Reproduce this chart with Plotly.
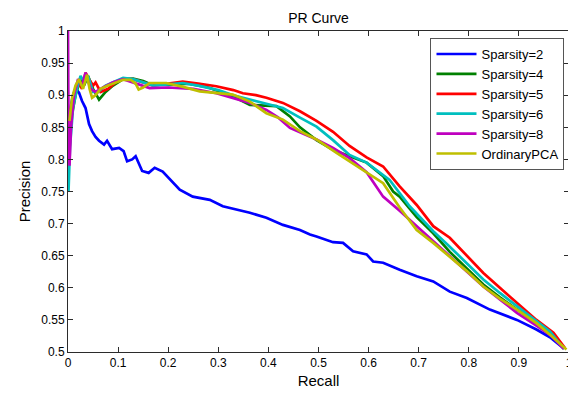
import plotly.graph_objects as go

# ---- data ----
names = ["Sparsity=2", "Sparsity=4", "Sparsity=5", "Sparsity=6", "Sparsity=8", "OrdinaryPCA"]
colors = ["#0000FF", "#008000", "#FF0000", "#00BFBF", "#BF00BF", "#BFBF00"]

s2_x = [0.002, 0.005, 0.010, 0.015, 0.022, 0.028, 0.035, 0.042, 0.048, 0.055, 0.062, 0.072, 0.078,
        0.088, 0.102, 0.111, 0.118, 0.128, 0.135, 0.148, 0.161, 0.173, 0.189, 0.205, 0.223, 0.249,
        0.283, 0.309, 0.336, 0.363, 0.396, 0.429, 0.463, 0.483, 0.496, 0.529, 0.549, 0.569, 0.596,
        0.609, 0.629, 0.662, 0.696, 0.729, 0.762, 0.796, 0.842, 0.896, 0.935, 0.962, 0.989]
s2_y = [0.860, 0.880, 0.900, 0.910, 0.904, 0.891, 0.880, 0.855, 0.844, 0.835, 0.829, 0.823, 0.829,
        0.816, 0.818, 0.813, 0.797, 0.800, 0.805, 0.782, 0.779, 0.787, 0.781, 0.768, 0.753, 0.742,
        0.737, 0.727, 0.722, 0.717, 0.709, 0.698, 0.690, 0.683, 0.680, 0.671, 0.670, 0.657, 0.652,
        0.641, 0.639, 0.628, 0.618, 0.610, 0.594, 0.584, 0.566, 0.550, 0.535, 0.523, 0.506]

s4_x = [0.002, 0.008, 0.015, 0.025, 0.032, 0.040, 0.050, 0.062, 0.075, 0.090, 0.110, 0.130, 0.150,
        0.165, 0.200, 0.240, 0.280, 0.330, 0.363, 0.390, 0.416, 0.443, 0.463, 0.496, 0.529, 0.562,
        0.596, 0.629, 0.649, 0.662, 0.696, 0.729, 0.762, 0.796, 0.829, 0.862, 0.896, 0.935, 0.965, 0.990]
s4_y = [0.880, 0.870, 0.900, 0.925, 0.915, 0.930, 0.910, 0.893, 0.905, 0.915, 0.925, 0.926, 0.922,
        0.917, 0.916, 0.918, 0.912, 0.898, 0.885, 0.884, 0.883, 0.867, 0.850, 0.830, 0.815, 0.805,
        0.795, 0.774, 0.750, 0.742, 0.710, 0.685, 0.656, 0.630, 0.605, 0.585, 0.566, 0.545, 0.528, 0.505]

s5_x = [0.002, 0.006, 0.012, 0.020, 0.028, 0.035, 0.042, 0.050, 0.055, 0.065, 0.080, 0.095, 0.110,
        0.130, 0.150, 0.170, 0.200, 0.229, 0.260, 0.296, 0.330, 0.349, 0.375, 0.396, 0.429, 0.463,
        0.496, 0.529, 0.562, 0.596, 0.629, 0.649, 0.662, 0.696, 0.729, 0.762, 0.796, 0.829, 0.862,
        0.896, 0.935, 0.969, 0.992]
s5_y = [0.800, 0.860, 0.900, 0.920, 0.910, 0.935, 0.925, 0.915, 0.920, 0.905, 0.910, 0.920, 0.925,
        0.925, 0.920, 0.915, 0.918, 0.921, 0.918, 0.914, 0.908, 0.903, 0.900, 0.896, 0.888, 0.875,
        0.860, 0.843, 0.821, 0.803, 0.789, 0.770, 0.758, 0.729, 0.696, 0.678, 0.650, 0.623, 0.600,
        0.576, 0.550, 0.530, 0.506]

s6_x = [0.001, 0.004, 0.010, 0.018, 0.025, 0.032, 0.040, 0.050, 0.060, 0.075, 0.090, 0.110, 0.130,
        0.150, 0.170, 0.200, 0.229, 0.260, 0.300, 0.330, 0.363, 0.396, 0.429, 0.463, 0.496, 0.529,
        0.562, 0.596, 0.642, 0.682, 0.729, 0.762, 0.796, 0.829, 0.862, 0.896, 0.935, 0.962, 0.990]
s6_y = [0.750, 0.820, 0.880, 0.910, 0.930, 0.920, 0.930, 0.905, 0.905, 0.915, 0.920, 0.927, 0.925,
        0.920, 0.915, 0.917, 0.919, 0.915, 0.908, 0.900, 0.893, 0.887, 0.880, 0.865, 0.851, 0.830,
        0.807, 0.795, 0.768, 0.727, 0.688, 0.664, 0.638, 0.613, 0.592, 0.571, 0.548, 0.532, 0.505]

s8_x = [0.000, 0.001, 0.003, 0.006, 0.012, 0.020, 0.028, 0.035, 0.045, 0.055, 0.070, 0.090, 0.110,
        0.130, 0.150, 0.163, 0.200, 0.250, 0.296, 0.330, 0.363, 0.396, 0.420, 0.443, 0.496, 0.529,
        0.562, 0.596, 0.629, 0.662, 0.696, 0.729, 0.762, 0.796, 0.829, 0.862, 0.896, 0.935, 0.965, 0.990]
s8_y = [1.000, 0.850, 0.790, 0.850, 0.900, 0.925, 0.915, 0.935, 0.910, 0.905, 0.912, 0.920, 0.925,
        0.920, 0.915, 0.911, 0.912, 0.910, 0.903, 0.896, 0.888, 0.877, 0.865, 0.849, 0.831, 0.818,
        0.802, 0.780, 0.742, 0.720, 0.696, 0.672, 0.649, 0.625, 0.602, 0.582, 0.561, 0.541, 0.525, 0.505]

pca_x = [0.003, 0.008, 0.015, 0.022, 0.030, 0.038, 0.043, 0.048, 0.055, 0.065, 0.080, 0.095, 0.110,
         0.125, 0.135, 0.141, 0.150, 0.163, 0.196, 0.230, 0.263, 0.329, 0.363, 0.396, 0.429, 0.463,
         0.496, 0.536, 0.562, 0.596, 0.629, 0.662, 0.696, 0.729, 0.762, 0.796, 0.829, 0.862, 0.896,
         0.935, 0.965, 0.995]
pca_y = [0.860, 0.895, 0.915, 0.925, 0.910, 0.932, 0.910, 0.896, 0.900, 0.910, 0.915, 0.920, 0.924,
         0.924, 0.918, 0.909, 0.912, 0.919, 0.919, 0.913, 0.906, 0.901, 0.890, 0.872, 0.862, 0.844,
         0.831, 0.810, 0.797, 0.780, 0.763, 0.725, 0.690, 0.670, 0.649, 0.626, 0.602, 0.583, 0.566,
         0.545, 0.525, 0.504]

x_ticks = [0, 0.1, 0.2, 0.3, 0.4, 0.5, 0.6, 0.7, 0.8, 0.9, 1]
x_labels = ["0", "0.1", "0.2", "0.3", "0.4", "0.5", "0.6", "0.7", "0.8", "0.9", "1"]
y_ticks = [0.5, 0.55, 0.6, 0.65, 0.7, 0.75, 0.8, 0.85, 0.9, 0.95, 1]
y_labels = ["0.5", "0.55", "0.6", "0.65", "0.7", "0.75", "0.8", "0.85", "0.9", "0.95", "1"]

series = [(s2_x, s2_y), (s4_x, s4_y), (s5_x, s5_y), (s6_x, s6_y), (s8_x, s8_y), (pca_x, pca_y)]

FONT = "Liberation Sans, Arial, sans-serif"

fig = go.Figure()
for (xs, ys), name, col in zip(series, names, colors):
    fig.add_trace(go.Scatter(x=xs, y=ys, mode="lines", name=name,
                             line=dict(color=col, width=2.7)))

axis_common = dict(showgrid=False, zeroline=False, showline=True, linecolor="#2b2b2b",
                   linewidth=1, mirror="ticks", ticks="inside", ticklen=5, tickcolor="#2b2b2b",
                   tickfont=dict(family=FONT, size=12, color="black"))

# the page body has an 8px default margin, so the figure is drawn 8px smaller
fig.update_layout(
    width=568, height=385,
    margin=dict(l=60, r=7, t=23, b=41, autoexpand=False),
    paper_bgcolor="white", plot_bgcolor="white",
    title=dict(text="PR Curve", xref="paper", x=0.5, xanchor="center", y=0.974, yanchor="middle",
               font=dict(family=FONT, size=14, color="black")),
    xaxis=dict(range=[0, 1], tickvals=x_ticks, ticktext=x_labels,
               title=dict(text="Recall", font=dict(family=FONT, size=15, color="black"), standoff=6),
               **axis_common),
    yaxis=dict(range=[0.5, 1], tickvals=y_ticks, ticktext=y_labels,
               title=dict(text="Precision", font=dict(family=FONT, size=15, color="black"), standoff=6),
               **axis_common),
    legend=dict(x=0.991, y=0.978, xanchor="right", yanchor="top",
                bgcolor="white", bordercolor="#555555", borderwidth=1,
                font=dict(family=FONT, size=13, color="black"),
                tracegroupgap=0, itemwidth=40),
    showlegend=True,
)

fig.write_html("out.html")
